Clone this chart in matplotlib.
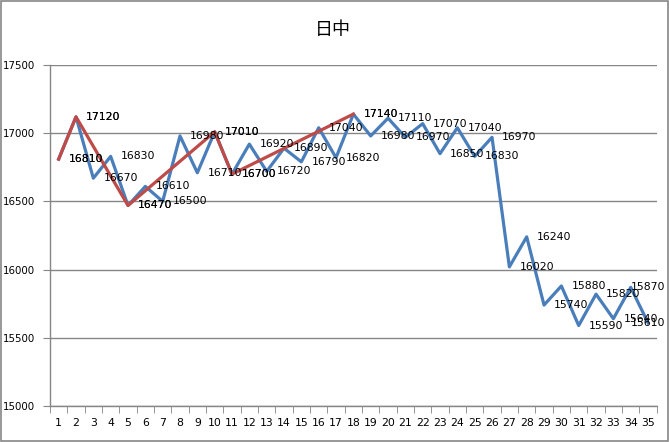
import matplotlib
matplotlib.use('Agg')
import matplotlib.pyplot as plt
from matplotlib.patches import Rectangle

plt.rcParams['font.family'] = ['DejaVu Sans', 'Noto Sans CJK SC']

# 数据
days = list(range(1, 36))
prices = [16810, 17120, 16670, 16830, 16470, 16610, 16500, 16980, 16710, 17010,
          16700, 16920, 16720, 16890, 16790, 17040, 16820, 17140, 16980, 17110,
          16970, 17070, 16850, 17040, 16830, 16970, 16020, 16240, 15740, 15880,
          15590, 15820, 15640, 15870, 15610]
trend_days = [1, 2, 5, 10, 11, 18]
trend_prices = [16810, 17120, 16470, 17010, 16700, 17140]
title = '日中'

W, H = 669, 442
fig = plt.figure(figsize=(W / 100, H / 100), dpi=100)
ax = fig.add_axes([50 / W, 36 / H, 606.7 / W, 341 / H])

# 外框
fig.patches.append(Rectangle((1 / W, 1 / H), 667 / W, 440 / H,
                             transform=fig.transFigure, fill=False,
                             edgecolor='#868686', linewidth=1.2))

ax.plot(days, prices, color='#4A7EBB', linewidth=2.3, zorder=3)
ax.plot(trend_days, trend_prices, color='#BE4B48', linewidth=2.3, zorder=4)

ax.set_xlim(0.5, 35.5)
ax.set_ylim(15000, 17500)

# 数据标签放在点的右侧, 超出图框时往左挪 (Excel 的做法)
label_w = 36
right_limit = W - 2


def put_label(d, p):
    px, py = ax.transData.transform((d, p))
    x = min(px + 10, right_limit - label_w)
    fig.text(x / W, py / H, str(p), ha='left', va='center', fontsize=7.8,
             color='black', zorder=5)


for d, p in zip(days, prices):
    put_label(d, p)
for d, p in zip(trend_days, trend_prices):
    put_label(d, p)

ax.set_yticks(range(15000, 17501, 500))
ax.set_xticks(days)
ax.set_xticks([d + 0.5 for d in range(0, 36)], minor=True)
ax.tick_params(axis='x', which='major', length=0, pad=9, labelsize=7.8)
ax.tick_params(axis='x', which='minor', length=5, color='#868686', direction='out')
ax.tick_params(axis='y', length=5, color='#868686', direction='out', labelsize=7.4, pad=6)

ax.grid(axis='y', color='#868686', linewidth=1)
ax.set_axisbelow(True)
for s in ['top', 'right']:
    ax.spines[s].set_visible(False)
for s in ['left', 'bottom']:
    ax.spines[s].set_color('#868686')
    ax.spines[s].set_linewidth(1)

fig.text(333 / W, 1 - 30 / H, title, ha='center', va='center', fontsize=13,
         family=['Noto Sans CJK SC', 'DejaVu Sans'])

fig.savefig('out.png', dpi=100)
